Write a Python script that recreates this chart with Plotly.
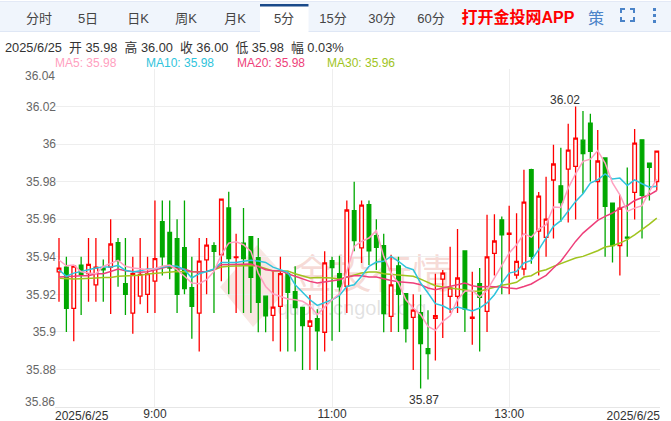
import plotly.graph_objects as go

tabs = ["分时", "5日", "日K", "周K", "月K", "5分", "15分", "30分", "60分"]
tab_centers = [39, 88, 138, 186, 235, 284, 333, 382, 431]
header = "2025/6/25  开 35.98  高 36.00  收 36.00  低 35.98  幅 0.03%"
x_ticks = [13, 37, 61]
x_labels = ["9:00", "11:00", "13:00"]
y_ticks = [35.86, 35.88, 35.9, 35.92, 35.94, 35.96, 35.98, 36, 36.02, 36.04]
y_labels = ["", "35.88", "35.9", "35.92", "35.94", "35.96", "35.98", "36", "36.02", ""]

opens = [35.932, 35.9345, 35.9125, 35.9356, 35.931, 35.925, 35.934, 35.9345, 35.9475, 35.9257,
         35.91, 35.919, 35.92, 35.927, 35.9587, 35.953, 35.9496, 35.9448, 35.9235, 35.91,
         35.9383, 35.9459, 35.941, 35.966, 35.9395, 35.9473, 35.9507, 35.9395, 35.919, 35.9088,
         35.9136, 35.931, 35.9214, 35.913, 35.903, 35.907, 35.8998, 35.9379, 35.931, 35.9242,
         35.9645, 35.9447, 35.9677, 35.9512, 35.9459, 35.9083, 35.9352, 35.9203, 35.9077, 35.9102,
         35.8911, 35.9072, 35.9281, 35.9189, 35.9189, 35.9431, 35.9072, 35.9257, 35.9109, 35.9418,
         35.9597, 35.952, 35.9303, 35.9335, 35.9864, 35.9537, 35.9503, 35.9809, 35.9778, 35.9867,
         35.9881, 36.0021, 36.0112, 35.9801, 35.9926, 35.9686, 35.946, 35.9505, 35.9743, 36.0023,
         35.9899, 35.9801]
highs = [35.95, 35.94, 35.935, 35.94, 35.95, 35.95, 35.9385, 35.96, 35.95, 35.95,
         35.94, 35.95, 35.94, 35.97, 35.97, 35.97, 35.96, 35.97, 35.94, 35.95,
         35.95, 35.9477, 35.9707, 35.9746, 35.9523, 35.966, 35.9507, 35.95, 35.919, 35.933,
         35.94, 35.932, 35.935, 35.913, 35.9196, 35.912, 35.943, 35.94, 35.9405, 35.97,
         35.98, 35.97, 35.97, 35.96, 35.9523, 35.9411, 35.94, 35.9203, 35.92, 35.9198,
         35.9115, 35.931, 35.933, 35.9454, 35.9548, 35.9431, 35.932, 35.934, 35.9624, 35.9627,
         35.9615, 35.9672, 35.9632, 35.9864, 35.9869, 35.9745, 35.9826, 35.9996, 35.9981, 36.0108,
         36.02, 36.0176, 36.0162, 36.0075, 35.9926, 35.9686, 35.973, 35.9876, 36.008, 36.0023,
         35.9899, 35.9963]
lows = [35.916, 35.90, 35.895, 35.909, 35.916, 35.916, 35.916, 35.9095, 35.924, 35.909,
        35.899, 35.9147, 35.91, 35.91, 35.93, 35.928, 35.91, 35.92, 35.8964, 35.8896,
        35.92, 35.91, 35.927, 35.92, 35.91, 35.91, 35.91, 35.8998, 35.8998, 35.895,
        35.8896, 35.8896, 35.8896, 35.8797, 35.8797, 35.8797, 35.8896, 35.8953, 35.9, 35.91,
        35.943, 35.9367, 35.9356, 35.933, 35.8998, 35.9, 35.9, 35.8944, 35.8797, 35.8698,
        35.8746, 35.8847, 35.8967, 35.91, 35.91, 35.9, 35.8932, 35.8896, 35.9, 35.93,
        35.92, 35.92, 35.9283, 35.93, 35.9363, 35.93, 35.94, 35.9498, 35.9586, 35.9583,
        35.9599, 35.9736, 35.9801, 35.96, 35.94, 35.937, 35.93, 35.94, 35.9599, 35.9498,
        35.97, 35.9753]
closes = [35.934, 35.9125, 35.935, 35.9306, 35.936, 35.9345, 35.933, 35.9468, 35.938, 35.92,
          35.931, 35.9306, 35.931, 35.939, 35.94, 35.934, 35.92, 35.923, 35.9136, 35.9377,
          35.9462, 35.9429, 35.9707, 35.939, 35.94, 35.939, 35.929, 35.9157, 35.9086, 35.9132,
          35.931, 35.921, 35.913, 35.9033, 35.9058, 35.9006, 35.9367, 35.9342, 35.924, 35.9649,
          35.9486, 35.9675, 35.9432, 35.945, 35.9097, 35.925, 35.92, 35.9017, 35.9116, 35.8937,
          35.8884, 35.9086, 35.9313, 35.9234, 35.9287, 35.9122, 35.9078, 35.9184, 35.9399, 35.9484,
          35.9517, 35.9526, 35.9375, 35.9691, 35.9402, 35.9723, 35.96, 35.9894, 35.9688, 35.9968,
          36.0032, 35.995, 35.9961, 35.991, 35.9668, 35.9459, 35.9659, 35.95, 36.0005, 35.9727,
          35.9876, 35.9963]

ma5 = [35.9383, 35.9352, 35.9356, 35.932, 35.9313, 35.931, 35.9349, 35.9367, 35.9381, 35.9349,
       35.934, 35.9336, 35.9331, 35.9336, 35.9349, 35.9356, 35.9331, 35.9296, 35.926, 35.9257,
       35.9278, 35.9322, 35.9411, 35.9473, 35.948, 35.9464, 35.9429, 35.9313, 35.9242, 35.9203,
       35.9189, 35.9175, 35.9171, 35.9163, 35.9139, 35.9092, 35.9132, 35.9171, 35.9203, 35.9322,
       35.9455, 35.9482, 35.95, 35.9539, 35.9402, 35.9313, 35.926, 35.9171, 35.9127, 35.9092,
       35.9029, 35.9008, 35.9056, 35.9086, 35.9171, 35.9216, 35.9221, 35.9186, 35.9221, 35.9287,
       35.9349, 35.942, 35.9464, 35.9523, 35.9505, 35.9548, 35.9571, 35.9665, 35.9663, 35.9766,
       35.9842, 35.9908, 35.992, 35.9965, 35.9899, 35.9793, 35.973, 35.9642, 35.9659, 35.9672,
       35.9748, 35.9814]
ma10 = [35.9331, 35.9296, 35.9313, 35.932, 35.9331, 35.934, 35.9345, 35.9345, 35.9354, 35.9328,
        35.9319, 35.9326, 35.9335, 35.9336, 35.9345, 35.9352, 35.9349, 35.9331, 35.9287, 35.931,
        35.9322, 35.9335, 35.937, 35.937, 35.937, 35.9376, 35.9381, 35.9377, 35.937, 35.9345,
        35.9331, 35.9317, 35.9251, 35.921, 35.9171, 35.9141, 35.9154, 35.9171, 35.9194, 35.9242,
        35.9251, 35.9296, 35.9349, 35.9372, 35.9376, 35.9402, 35.9376, 35.9345, 35.9331, 35.926,
        35.9207, 35.915, 35.9139, 35.9118, 35.9132, 35.9122, 35.9111, 35.9127, 35.9154, 35.9198,
        35.926, 35.9313, 35.9322, 35.9367, 35.9381, 35.9438, 35.95, 35.9562, 35.9592, 35.9642,
        35.9695, 35.9736, 35.9793, 35.981, 35.9841, 35.9814, 35.9819, 35.978, 35.981, 35.9789,
        35.9771, 35.9775]
ma20 = [35.9292, 35.9292, 35.9296, 35.9299, 35.9299, 35.931, 35.931, 35.9322, 35.9335, 35.9326,
        35.932, 35.9317, 35.932, 35.9331, 35.9342, 35.9349, 35.9336, 35.9335, 35.932, 35.9319,
        35.9322, 35.9331, 35.9358, 35.9358, 35.9361, 35.9361, 35.9361, 35.9349, 35.9331, 35.9326,
        35.9326, 35.931, 35.9296, 35.9281, 35.9269, 35.926, 35.9265, 35.9274, 35.9278, 35.9292,
        35.9299, 35.9299, 35.9292, 35.9292, 35.9281, 35.9274, 35.9267, 35.9265, 35.926, 35.9251,
        35.9234, 35.9225, 35.9234, 35.9242, 35.9251, 35.926, 35.9246, 35.9239, 35.9242, 35.9242,
        35.9239, 35.9234, 35.923, 35.9242, 35.9255, 35.9278, 35.9301, 35.934, 35.9376, 35.9429,
        35.9482, 35.9526, 35.9558, 35.9594, 35.9615, 35.9633, 35.9659, 35.9672, 35.97, 35.9713,
        35.973, 35.9753]
ma30 = [35.9285, 35.9281, 35.9281, 35.9283, 35.9283, 35.9287, 35.9289, 35.929, 35.9296, 35.9297,
        35.9297, 35.9301, 35.9308, 35.9312, 35.9317, 35.932, 35.9322, 35.932, 35.932, 35.932,
        35.9322, 35.9331, 35.9345, 35.9349, 35.9352, 35.9354, 35.9354, 35.9349, 35.9335, 35.9324,
        35.9324, 35.9324, 35.931, 35.9299, 35.9287, 35.929, 35.929, 35.9287, 35.9281, 35.9292,
        35.9299, 35.9313, 35.9319, 35.9319, 35.931, 35.9306, 35.9301, 35.9297, 35.9296, 35.9281,
        35.9264, 35.9246, 35.9239, 35.9234, 35.9228, 35.9221, 35.9218, 35.9216, 35.9228, 35.9239,
        35.9248, 35.9255, 35.9264, 35.9292, 35.9299, 35.9322, 35.9331, 35.9349, 35.9363, 35.9376,
        35.9393, 35.9402, 35.9416, 35.9432, 35.9452, 35.9459, 35.9473, 35.9491, 35.9517, 35.9544,
        35.9574, 35.9606]

W, H = 671, 421
ML, MR, MT, MB = 55, 11, 69, 14
PW, PH = W - ML - MR, H - MT - MB
FONT = "Liberation Sans, Arial, 'Noto Sans CJK SC', sans-serif"
C_MA5, C_MA10, C_MA20, C_MA30 = "#ffa0c0", "#2fc4dc", "#ee3f7a", "#a0c41e"
INSET = 3


def px(v):
    return (v - ML) / PW


def py(v):
    return (H - MB - v) / PH


def box(x0, y0, x1, y1, fill, layer="below"):
    return dict(type="rect", xref="paper", yref="paper", x0=px(x0), x1=px(x1), y0=py(y0), y1=py(y1),
                fillcolor=fill, line_width=0, layer=layer)


def label(x, y, text, color="#333333", size=12, anchor="center", layer="above"):
    # Text is carried by an invisible box; unlike annotations it does not push the margins.
    half = 120
    x0 = {"left": x - INSET, "center": x - half, "right": x + INSET - 2 * half}[anchor]
    pos = {"left": "middle left", "center": "middle center", "right": "middle right"}[anchor]
    s = box(x0, y - 10, x0 + 2 * half, y + 10, "rgba(0,0,0,0)", layer=layer)
    s["label"] = dict(text=text, textposition=pos, padding=0, font=dict(size=size, color=color, family=FONT))
    return s


xs = list(range(len(opens)))
fig = go.Figure()
fig.add_trace(go.Candlestick(
    x=xs, open=opens, high=highs, low=lows, close=closes,
    increasing=dict(line=dict(color="#ff0000", width=1.3), fillcolor="#ffffff"),
    decreasing=dict(line=dict(color="#00a800", width=1.3), fillcolor="#00a800"),
    whiskerwidth=0, showlegend=False,
))
for vals, col in ((ma30, C_MA30), (ma20, C_MA20), (ma10, C_MA10), (ma5, C_MA5)):
    fig.add_trace(go.Scatter(x=xs, y=vals, mode="lines", line=dict(color=col, width=1.5), showlegend=False))

shapes = [
    box(0, 1, W, 32, "#f0f5fc"),
    box(0, 31, W, 32, "#dfe7f5"),
    box(0, 1, W, 2, "#e3e9f6"),
    box(260, 4, 308.5, 32, "#ffffff"),
    box(260, 4, 308.5, 6.5, "#1a4a8a"),
    dict(type="path", xref="paper", yref="paper", layer="below", fillcolor="rgba(225,130,115,0.20)", line_width=0,
         path=f"M {px(220)} {py(287)} L {px(257)} {py(245)} L {px(292)} {py(284)} L {px(253)} {py(327)} Z"),
]
ic = "#4a83c8"
for x0, y0, x1, y1 in ((620, 8, 625, 10), (620, 8, 622, 13), (630, 8, 635, 10), (633, 8, 635, 13),
                       (620, 20, 625, 22), (620, 17, 622, 22), (630, 20, 635, 22), (633, 17, 635, 22),
                       (653, 8, 656, 11), (653, 14, 656, 17), (653, 20, 656, 23)):
    shapes.append(box(x0, y0, x1, y1, ic, layer="above"))

shapes.append(label(372, 270, "金投行情", "rgba(225,130,115,0.28)", 40, layer="below"))
shapes.append(label(352, 306, "quote.cngold.org", "rgba(150,150,150,0.28)", 20, layer="below"))
for t, c in zip(tabs, tab_centers):
    shapes.append(label(c, 17.5, t, "#444444", 13))
shapes.append(label(518, 16, "<b>打开金投网APP</b>", "#ff0000", 16))
shapes.append(label(596, 16, "策", "#4a83c8", 16))
shapes.append(label(5, 46.5, header, "#333333", 12.8, "left"))
shapes.append(label(55, 62, "MA5: 35.98", C_MA5, 12, "left"))
shapes.append(label(146, 62, "MA10: 35.98", C_MA10, 12, "left"))
shapes.append(label(237, 62, "MA20: 35.98", C_MA20, 12, "left"))
shapes.append(label(327, 62, "MA30: 35.96", C_MA30, 12, "left"))
shapes.append(label(55, 75, "36.04", "#666666", 12, "right"))
shapes.append(label(55, 400.5, "35.86", "#666666", 12, "right"))
shapes.append(label(55, 414.5, "2025/6/25", "#333333", 12, "left"))
shapes.append(label(660, 414.5, "2025/6/25", "#333333", 12, "right"))

ann = [
    dict(x=70, y=36.02, xref="x", yref="y", text="36.02", showarrow=False, yshift=7, xshift=-11,
         font=dict(color="#333333", size=12, family=FONT)),
    dict(x=49, y=35.87, xref="x", yref="y", text="35.87", showarrow=False, yshift=-12, xshift=3,
         font=dict(color="#333333", size=12, family=FONT)),
]

fig.update_layout(
    width=W, height=H, margin=dict(l=ML, r=MR, t=MT, b=MB, pad=0),
    paper_bgcolor="#ffffff", plot_bgcolor="#ffffff", showlegend=False,
    font=dict(family=FONT, size=12, color="#666666"),
    shapes=shapes, annotations=ann,
    xaxis=dict(range=[-0.542, 81.436], tickmode="array", tickvals=x_ticks, ticktext=x_labels, automargin=False,
               showgrid=True, gridcolor="#eeeeee", gridwidth=1, showline=True, linecolor="#e6e6e6", linewidth=1,
               ticks="", rangeslider=dict(visible=False), zeroline=False, ticklabelstandoff=-4,
               tickfont=dict(color="#333333", size=12)),
    yaxis=dict(range=[35.86, 36.04], tickmode="array", tickvals=y_ticks, ticktext=y_labels, automargin=False,
               showgrid=True, gridcolor="#eeeeee", gridwidth=1, showline=False, ticks="", zeroline=False,
               ticklabelstandoff=-2, tickfont=dict(color="#666666", size=12)),
)
fig.write_html("out.html", config=dict(displayModeBar=False), post_script="document.body.style.margin='0';")
